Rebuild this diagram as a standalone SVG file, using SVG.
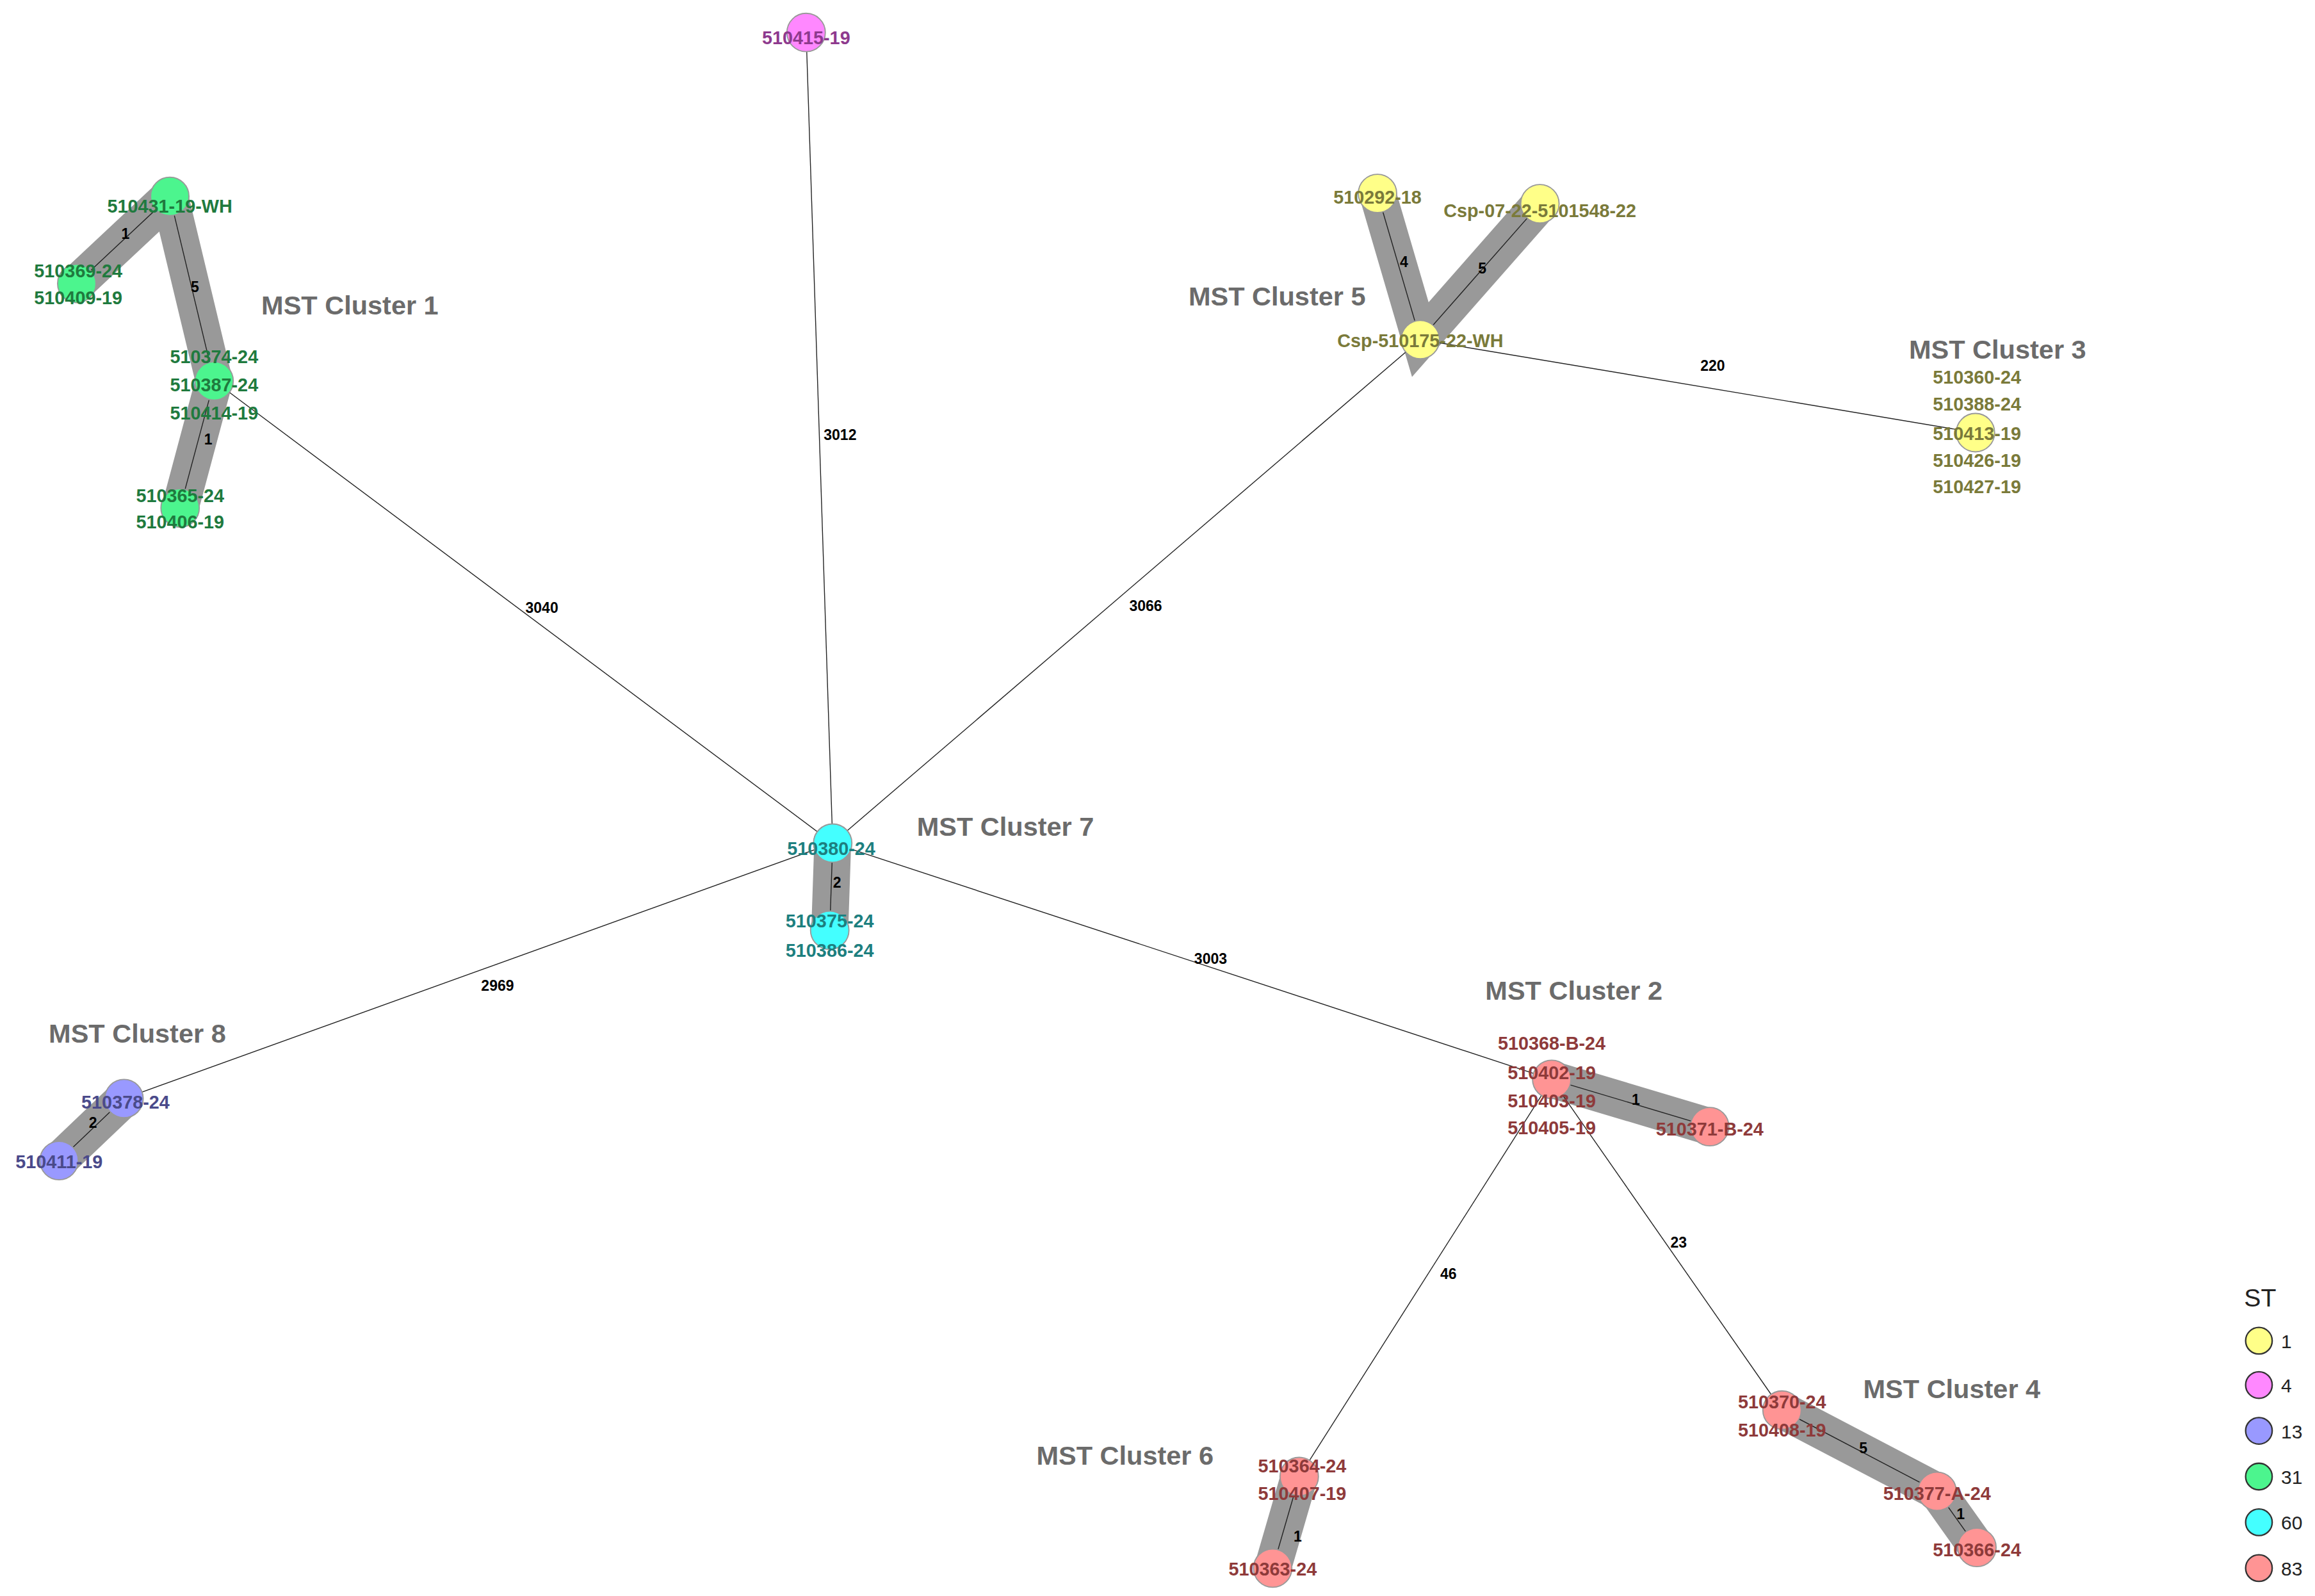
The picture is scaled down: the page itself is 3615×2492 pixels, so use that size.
<svg xmlns="http://www.w3.org/2000/svg" width="3615" height="2492" viewBox="0 0 3615 2492">
<style>
.band{stroke:#999;stroke-width:25;stroke-linecap:round;fill:none}
.e{stroke:#222;stroke-width:0.6;fill:none}
.el{font-family:"Liberation Sans",Arial,sans-serif;font-weight:bold;font-size:10px;fill:#000;text-anchor:middle}
.t{font-family:"Liberation Sans",Arial,sans-serif;font-weight:bold;font-size:18px;fill:#6b6b6b;text-anchor:middle}
.n{stroke:#999;stroke-width:0.8}
.l{font-family:"Liberation Sans",Arial,sans-serif;font-weight:bold;font-size:12.5px;text-anchor:middle}
.g{fill:#4cf58e}.gl{fill:#1f7a3e}
.y{fill:#ffff88}.yl{fill:#7a7a3a}
.c{fill:#44ffff}.cl{fill:#1d7f7f}
.b{fill:#9999ff}.bl{fill:#4a4a8a}
.r{fill:#ff9494}.rl{fill:#8e3a3a}
.p{fill:#ff88ff}.pl{fill:#8e3a8e}
.lg{stroke:#333;stroke-width:1}
.lt{font-family:"Liberation Sans",Arial,sans-serif;font-size:13px;fill:#222}
</style>
<rect width="3615" height="2492" fill="#fff"/>
<g transform="scale(2.3055)">
<g id="connectors">
<path class="band" d="M115,133 L52,192 M115,133 L145,258 L122,344"/>
<path class="band" d="M933,131 L962,230 L1043,138"/>
<path class="band" d="M564,571 L562,630"/>
<path class="band" d="M84,744 L40,786"/>
<path class="band" d="M1051,731 L1158,763"/>
<path class="band" d="M880,1000 L862,1062"/>
<path class="band" d="M1207,955 L1312,1010 L1339,1048"/>
<line class="e" x1="115" y1="133" x2="52" y2="192"/>
<line class="e" x1="115" y1="133" x2="145" y2="258"/>
<line class="e" x1="145" y1="258" x2="122" y2="344"/>
<line class="e" x1="933" y1="131" x2="962" y2="230"/>
<line class="e" x1="1043" y1="138" x2="962" y2="230"/>
<line class="e" x1="962" y1="230" x2="1338" y2="293"/>
<line class="e" x1="564" y1="571" x2="546" y2="22"/>
<line class="e" x1="564" y1="571" x2="145" y2="258"/>
<line class="e" x1="564" y1="571" x2="962" y2="230"/>
<line class="e" x1="564" y1="571" x2="84" y2="744"/>
<line class="e" x1="564" y1="571" x2="1051" y2="731"/>
<line class="e" x1="564" y1="571" x2="562" y2="630"/>
<line class="e" x1="84" y1="744" x2="40" y2="786"/>
<line class="e" x1="1051" y1="731" x2="1158" y2="763"/>
<line class="e" x1="1051" y1="731" x2="880" y2="1000"/>
<line class="e" x1="1051" y1="731" x2="1207" y2="955"/>
<line class="e" x1="880" y1="1000" x2="862" y2="1062"/>
<line class="e" x1="1207" y1="955" x2="1312" y2="1010"/>
<line class="e" x1="1312" y1="1010" x2="1339" y2="1048"/>
<text class="el" x="85" y="162">1</text>
<text class="el" x="132" y="198">5</text>
<text class="el" x="141" y="301">1</text>
<text class="el" x="951" y="181">4</text>
<text class="el" x="1004" y="185">5</text>
<text class="el" x="1160" y="251">220</text>
<text class="el" x="569" y="298">3012</text>
<text class="el" x="367" y="415">3040</text>
<text class="el" x="776" y="414">3066</text>
<text class="el" x="337" y="671">2969</text>
<text class="el" x="820" y="653">3003</text>
<text class="el" x="567" y="601">2</text>
<text class="el" x="63" y="764">2</text>
<text class="el" x="1108" y="748">1</text>
<text class="el" x="981" y="866">46</text>
<text class="el" x="1137" y="845">23</text>
<text class="el" x="879" y="1044">1</text>
<text class="el" x="1262" y="984">5</text>
<text class="el" x="1328" y="1029">1</text>
</g>
<g id="titles">
<text class="t" x="237" y="213">MST Cluster 1</text>
<text class="t" x="865" y="207">MST Cluster 5</text>
<text class="t" x="1353" y="243">MST Cluster 3</text>
<text class="t" x="681" y="566">MST Cluster 7</text>
<text class="t" x="93" y="706">MST Cluster 8</text>
<text class="t" x="1066" y="677">MST Cluster 2</text>
<text class="t" x="762" y="992">MST Cluster 6</text>
<text class="t" x="1322" y="947">MST Cluster 4</text>
</g>
<g id="n510431"><circle class="n g" cx="115" cy="133" r="13"/><text class="l gl" x="115" y="144">510431-19-WH</text></g>
<g id="n510369"><circle class="n g" cx="52" cy="192" r="13"/><text class="l gl" x="53" y="188">510369-24</text><text class="l gl" x="53" y="206">510409-19</text></g>
<g id="n510374"><circle class="n g" cx="145" cy="258" r="13"/><text class="l gl" x="145" y="246">510374-24</text><text class="l gl" x="145" y="265">510387-24</text><text class="l gl" x="145" y="284">510414-19</text></g>
<g id="n510365"><circle class="n g" cx="122" cy="344" r="13"/><text class="l gl" x="122" y="340">510365-24</text><text class="l gl" x="122" y="358">510406-19</text></g>
<g id="n510292"><circle class="n y" cx="933" cy="131" r="13"/><text class="l yl" x="933" y="138">510292-18</text></g>
<g id="ncsp07"><circle class="n y" cx="1043" cy="138" r="13"/><text class="l yl" x="1043" y="147">Csp-07-22-5101548-22</text></g>
<g id="ncsp510175"><circle class="n y" cx="962" cy="230" r="13"/><text class="l yl" x="962" y="235">Csp-510175-22-WH</text></g>
<g id="n510413"><circle class="n y" cx="1338" cy="293" r="13"/><text class="l yl" x="1339" y="260">510360-24</text><text class="l yl" x="1339" y="278">510388-24</text><text class="l yl" x="1339" y="298">510413-19</text><text class="l yl" x="1339" y="316">510426-19</text><text class="l yl" x="1339" y="334">510427-19</text></g>
<g id="n510415"><circle class="n p" cx="546" cy="22" r="13"/><text class="l pl" x="546" y="30">510415-19</text></g>
<g id="n510380"><circle class="n c" cx="564" cy="571" r="13"/><text class="l cl" x="563" y="579">510380-24</text></g>
<g id="n510375"><circle class="n c" cx="562" cy="630" r="13"/><text class="l cl" x="562" y="628">510375-24</text><text class="l cl" x="562" y="648">510386-24</text></g>
<g id="n510378"><circle class="n b" cx="84" cy="744" r="13"/><text class="l bl" x="85" y="751">510378-24</text></g>
<g id="n510411"><circle class="n b" cx="40" cy="786" r="13"/><text class="l bl" x="40" y="791">510411-19</text></g>
<g id="n510402"><circle class="n r" cx="1051" cy="731" r="13"/><text class="l rl" x="1051" y="711">510368-B-24</text><text class="l rl" x="1051" y="731">510402-19</text><text class="l rl" x="1051" y="750">510403-19</text><text class="l rl" x="1051" y="768">510405-19</text></g>
<g id="n510371"><circle class="n r" cx="1158" cy="763" r="13"/><text class="l rl" x="1158" y="769">510371-B-24</text></g>
<g id="n510364"><circle class="n r" cx="880" cy="1000" r="13"/><text class="l rl" x="882" y="997">510364-24</text><text class="l rl" x="882" y="1016">510407-19</text></g>
<g id="n510363"><circle class="n r" cx="862" cy="1062" r="13"/><text class="l rl" x="862" y="1067">510363-24</text></g>
<g id="n510370"><circle class="n r" cx="1207" cy="955" r="13"/><text class="l rl" x="1207" y="954">510370-24</text><text class="l rl" x="1207" y="973">510408-19</text></g>
<g id="n510377"><circle class="n r" cx="1312" cy="1010" r="13"/><text class="l rl" x="1312" y="1016">510377-A-24</text></g>
<g id="n510366"><circle class="n r" cx="1339" cy="1048" r="13"/><text class="l rl" x="1339" y="1054">510366-24</text></g>
<g id="legend">
<text class="lt" x="1520" y="885" style="font-size:17px">ST</text>
<circle class="lg y" cx="1530" cy="908" r="9"/><text class="lt" x="1545" y="913">1</text>
<circle class="lg p" cx="1530" cy="938" r="9"/><text class="lt" x="1545" y="943">4</text>
<circle class="lg b" cx="1530" cy="969" r="9"/><text class="lt" x="1545" y="974">13</text>
<circle class="lg g" cx="1530" cy="1000" r="9"/><text class="lt" x="1545" y="1005">31</text>
<circle class="lg c" cx="1530" cy="1031" r="9"/><text class="lt" x="1545" y="1036">60</text>
<circle class="lg r" cx="1530" cy="1062" r="9"/><text class="lt" x="1545" y="1067">83</text>
</g>
</g>
</svg>
